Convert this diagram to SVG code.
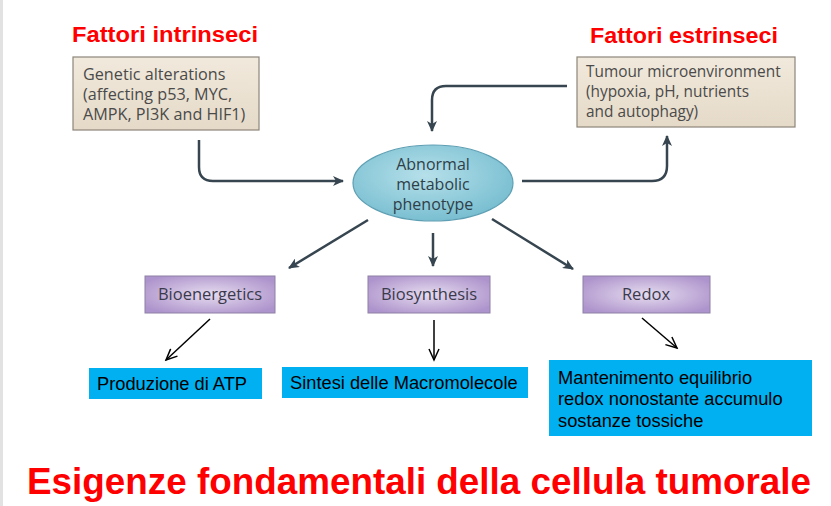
<svg xmlns="http://www.w3.org/2000/svg" width="831" height="506" viewBox="0 0 831 506">
<defs>
<linearGradient id="beige" x1="0" y1="0" x2="0" y2="1"><stop offset="0" stop-color="#f1e9dc"/><stop offset="1" stop-color="#e5dac8"/></linearGradient>
<radialGradient id="teal" cx="0.45" cy="0.4" r="0.65"><stop offset="0" stop-color="#b6e0ea"/><stop offset="1" stop-color="#74bccf"/></radialGradient>
<radialGradient id="purple" cx="0.5" cy="0.5" r="0.6"><stop offset="0" stop-color="#e6dcef"/><stop offset="1" stop-color="#ae94cc"/></radialGradient>
<marker id="dk" markerWidth="12" markerHeight="10" refX="10" refY="5" orient="auto" markerUnits="userSpaceOnUse"><path d="M0,0 L11,5 L0,10 L3,5 Z" fill="#36454f"/></marker>
<marker id="bk" markerWidth="14" markerHeight="12" refX="12" refY="6" orient="auto" markerUnits="userSpaceOnUse"><path d="M1,1 L12,6 L1,11" fill="none" stroke="#000" stroke-width="1.5"/></marker>
</defs>
<style>
.red{font-family:"Liberation Sans",Arial,sans-serif;font-weight:bold;fill:#ff0000}
.bt{font-family:"Open Sans","Noto Sans",sans-serif;fill:#4a4a4a}
.et{font-family:"Open Sans","Noto Sans",sans-serif;font-size:16px;fill:#2f3f48;text-anchor:middle}
.pt{font-family:"Open Sans","Noto Sans",sans-serif;font-size:16.5px;fill:#3b3a4c;text-anchor:middle}
.lt{font-family:"Liberation Sans",Arial,sans-serif;font-size:18.3px;fill:#000}
.beige{fill:url(#beige);stroke:#8d857a;stroke-width:1.2}
.pbox{fill:url(#purple);stroke:#8e80a6;stroke-width:1}
.blue{fill:#00b0f0}
.dc{fill:none;stroke:#36454f;stroke-width:2.5;marker-end:url(#dk)}
.bc{fill:none;stroke:#000;stroke-width:1.5;marker-end:url(#bk)}
</style>
<rect x="0" y="0" width="831" height="506" fill="#ffffff"/>
<rect x="0" y="0" width="3" height="506" fill="#e2e2e2"/>

<text class="red" x="72" y="42" font-size="22" textLength="186" lengthAdjust="spacingAndGlyphs">Fattori intrinseci</text>
<text class="red" x="590" y="43" font-size="22" textLength="188" lengthAdjust="spacingAndGlyphs">Fattori estrinseci</text>

<g id="connectors">
<path class="dc" d="M199,140 V167 Q199,181 213,181 H343"/>
<path class="dc" d="M522,181 H652 Q667,181 667,166 V136"/>
<path class="dc" d="M567,86 H446 Q432,86 432,100 V131"/>
<path class="dc" d="M368,220 L289,268"/>
<path class="dc" d="M433,233 V266"/>
<path class="dc" d="M492,219 L573,269"/>
<path class="bc" d="M210,319 L166,360"/>
<path class="bc" d="M434,320 V360"/>
<path class="bc" d="M642,318 L677,348"/>
</g>

<g id="genetic">
<rect class="beige" x="73" y="57" width="186" height="73"/>
<text class="bt" x="83" y="80" font-size="16.2">Genetic alterations</text>
<text class="bt" x="83" y="100" font-size="16.2">(affecting p53, MYC,</text>
<text class="bt" x="83" y="120" font-size="16.2">AMPK, PI3K and HIF1)</text>
</g>

<g id="tumour">
<rect class="beige" x="577" y="57" width="218" height="70"/>
<text class="bt" x="586" y="77" font-size="15.4">Tumour microenvironment</text>
<text class="bt" x="586" y="97" font-size="15.4">(hypoxia, pH, nutrients</text>
<text class="bt" x="586" y="117" font-size="15.4">and autophagy)</text>
</g>

<g id="phenotype">
<ellipse cx="433" cy="183" rx="80" ry="38" fill="url(#teal)" stroke="#5e9fb3" stroke-width="1.2"/>
<text class="et" x="433" y="170">Abnormal</text>
<text class="et" x="433" y="190">metabolic</text>
<text class="et" x="433" y="210">phenotype</text>
</g>

<g id="bioenergetics">
<rect class="pbox" x="145" y="276" width="130" height="37"/>
<text class="pt" x="210" y="300">Bioenergetics</text>
</g>
<g id="biosynthesis">
<rect class="pbox" x="368" y="276" width="122" height="37"/>
<text class="pt" x="429" y="300">Biosynthesis</text>
</g>
<g id="redox">
<rect class="pbox" x="583" y="276" width="127" height="37"/>
<text class="pt" x="646" y="300">Redox</text>
</g>

<g id="atp">
<rect class="blue" x="89" y="368" width="173" height="31"/>
<text class="lt" x="97" y="390">Produzione di ATP</text>
</g>
<g id="macro">
<rect class="blue" x="282" y="367" width="246" height="31"/>
<text class="lt" x="290" y="389">Sintesi delle Macromolecole</text>
</g>
<g id="mantenimento">
<rect class="blue" x="549" y="360" width="263" height="76"/>
<text class="lt" x="558" y="384">Mantenimento equilibrio</text>
<text class="lt" x="558" y="405">redox nonostante accumulo</text>
<text class="lt" x="558" y="427">sostanze tossiche</text>
</g>

<text class="red" x="27" y="494" font-size="37" textLength="784" lengthAdjust="spacingAndGlyphs">Esigenze fondamentali della cellula tumorale</text>
</svg>
